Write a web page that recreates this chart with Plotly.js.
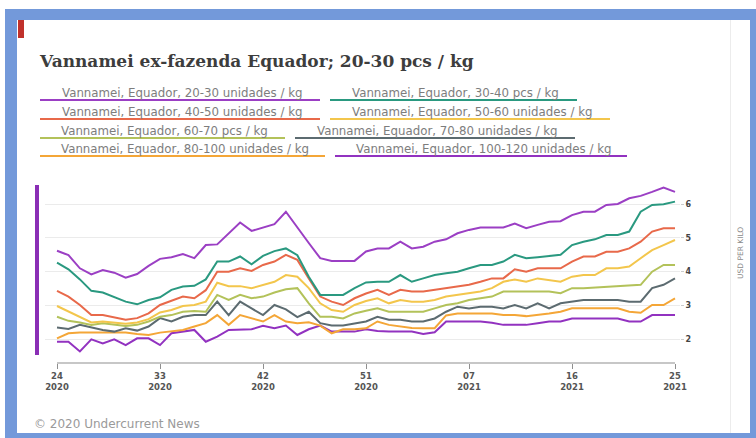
<!DOCTYPE html>
<html>
<head>
<meta charset="utf-8">
<script src="https://cdn.plot.ly/plotly-3.0.1.min.js"></script>
<style>
  html, body { margin:0; padding:0; background:#ffffff; width:756px; height:438px; overflow:hidden; }
  #blue { position:absolute; left:5px; top:9px; width:751px; height:429px; background:#7399da; }
  #white { position:absolute; left:17px; top:20px; width:733px; height:413px; background:#ffffff; }
  #sep { position:absolute; left:730px; top:20px; width:1px; height:413px; background:#ececec; }
  #red { position:absolute; left:18px; top:20px; width:6px; height:18px; background:#c0312b; }
  #chart { position:absolute; left:0; top:0; width:756px; height:438px; }
</style>
</head>
<body>
<div id="blue"></div>
<div id="white"></div>
<div id="sep"></div>
<div id="red"></div>
<div id="chart"></div>
<script>
// ---------- DATA ----------
const weeks = [
  "24/2020","25/2020","26/2020","27/2020","28/2020","29/2020","30/2020","31/2020","32/2020","33/2020",
  "34/2020","35/2020","36/2020","37/2020","38/2020","39/2020","40/2020","41/2020","42/2020","43/2020",
  "44/2020","45/2020","46/2020","47/2020","48/2020","49/2020","50/2020","51/2020","52/2020","53/2020",
  "01/2021","02/2021","03/2021","04/2021","05/2021","06/2021","07/2021","08/2021","09/2021","10/2021",
  "11/2021","12/2021","13/2021","14/2021","15/2021","16/2021","17/2021","18/2021","19/2021","20/2021",
  "21/2021","22/2021","23/2021","24/2021","25/2021"
];
const tickWeeks  = ["24/2020","33/2020","42/2020","51/2020","07/2021","16/2021","25/2021"];
const tickLabels = ["24<br>2020","33<br>2020","42<br>2020","51<br>2020","07<br>2021","16<br>2021","25<br>2021"];

const seriesNames = [
  "Vannamei, Equador, 20-30 unidades / kg",
  "Vannamei, Equador, 30-40 pcs / kg",
  "Vannamei, Equador, 40-50 unidades / kg",
  "Vannamei, Equador, 50-60 unidades / kg",
  "Vannamei, Equador, 60-70 pcs / kg",
  "Vannamei, Equador, 70-80 unidades / kg",
  "Vannamei, Equador, 80-100 unidades / kg",
  "Vannamei, Equador, 100-120 unidades / kg"
];

const s20_30 = [4.62,4.49,4.10,3.92,4.05,3.97,3.82,3.93,4.17,4.38,4.43,4.52,4.40,4.79,4.81,5.14,5.46,5.21,5.31,5.41,
  5.78,5.30,4.85,4.40,4.32,4.32,4.32,4.60,4.69,4.69,4.89,4.69,4.74,4.89,4.96,5.14,5.24,5.31,5.31,5.31,
  5.43,5.29,5.39,5.48,5.50,5.68,5.78,5.78,5.98,6.01,6.18,6.25,6.37,6.50,6.37];
const s30_40 = [4.27,4.07,3.77,3.43,3.38,3.24,3.11,3.03,3.16,3.24,3.46,3.56,3.58,3.77,4.30,4.30,4.45,4.22,4.47,4.61,
  4.69,4.49,3.85,3.31,3.31,3.31,3.51,3.68,3.70,3.70,3.90,3.70,3.80,3.90,3.95,4.00,4.10,4.20,4.20,4.30,
  4.50,4.40,4.43,4.47,4.50,4.79,4.89,4.96,5.09,5.09,5.19,5.78,5.98,6.00,6.08];
const s40_50 = [3.43,3.26,3.01,2.71,2.71,2.65,2.57,2.62,2.76,3.01,3.14,3.26,3.21,3.45,4.00,4.00,4.10,4.02,4.20,4.30,
  4.50,4.35,3.80,3.26,3.11,3.01,3.21,3.35,3.46,3.31,3.46,3.41,3.41,3.46,3.51,3.56,3.61,3.70,3.80,3.80,
  4.07,4.00,4.10,4.10,4.10,4.30,4.45,4.45,4.59,4.59,4.69,4.89,5.19,5.29,5.29];
const s50_60 = [2.98,2.81,2.66,2.49,2.52,2.49,2.45,2.49,2.59,2.79,2.86,2.98,3.01,3.11,3.67,3.57,3.57,3.51,3.60,3.70,
  3.90,3.85,3.51,3.06,2.86,2.81,3.01,3.13,3.21,3.06,3.16,3.11,3.11,3.16,3.26,3.31,3.36,3.41,3.51,3.70,
  3.77,3.70,3.80,3.75,3.70,3.85,3.90,3.90,4.10,4.10,4.15,4.40,4.64,4.79,4.94];
const s60_70 = [2.66,2.54,2.49,2.42,2.47,2.42,2.39,2.42,2.52,2.66,2.71,2.81,2.83,2.81,3.31,3.16,3.31,3.21,3.26,3.38,
  3.48,3.51,3.06,2.66,2.66,2.61,2.76,2.84,2.91,2.81,2.81,2.81,2.81,2.91,3.01,3.06,3.16,3.21,3.26,3.41,
  3.41,3.41,3.41,3.41,3.36,3.51,3.51,3.53,3.56,3.58,3.61,3.61,4.00,4.20,4.20];
const s70_80 = [2.34,2.30,2.42,2.34,2.27,2.22,2.32,2.25,2.37,2.62,2.52,2.66,2.71,2.71,3.11,2.71,3.11,2.91,2.71,3.01,
  2.88,2.65,2.81,2.47,2.40,2.40,2.47,2.52,2.66,2.57,2.57,2.52,2.52,2.61,2.81,2.96,2.91,2.96,2.96,2.91,
  3.01,2.91,3.06,2.91,3.06,3.11,3.16,3.16,3.16,3.16,3.11,3.11,3.51,3.61,3.80];
const s80_100 = [2.02,2.17,2.19,2.19,2.17,2.17,2.19,2.15,2.12,2.19,2.22,2.27,2.37,2.47,2.71,2.42,2.71,2.61,2.52,2.71,
  2.52,2.47,2.50,2.40,2.17,2.29,2.29,2.32,2.52,2.42,2.38,2.33,2.32,2.32,2.70,2.76,2.76,2.76,2.76,2.71,
  2.71,2.68,2.71,2.76,2.81,2.91,2.91,2.91,2.91,2.91,2.81,2.78,3.01,3.01,3.21];
const s100_120 = [1.92,1.92,1.63,1.99,1.87,1.99,1.82,2.02,2.02,1.82,2.17,2.22,2.27,1.92,2.07,2.27,2.29,2.29,2.39,2.32,
  2.40,2.12,2.29,2.40,2.22,2.22,2.22,2.29,2.24,2.22,2.22,2.22,2.15,2.20,2.52,2.52,2.52,2.52,2.48,2.42,
  2.42,2.42,2.47,2.52,2.52,2.61,2.61,2.61,2.61,2.61,2.52,2.52,2.71,2.71,2.71];

const seriesValues = [s20_30, s30_40, s40_50, s50_60, s60_70, s70_80, s80_100, s100_120];

// ---------- STYLE ----------
const colors = ["#9b3fc4","#2a9980","#e8694a","#f3c64c","#b3c25a","#5c6b70","#f4a637","#9232c0"];

// plot area in pixels
const L = 45, R = 680, T = 185, B = 363;
const px = x => (x - L) / (R - L);
const py = y => (B - y) / (B - T);

// legend layout (pixel positions): [underline x0, underline x1, row text y, row underline y]
const legendPos = [
  [40, 320, 93, 100], [330, 577, 93, 100],
  [40, 320, 112, 119], [330, 610, 112, 119],
  [40, 285, 131, 138], [295, 575, 131, 138],
  [40, 325, 149, 156], [335, 627, 149, 156]
];

const traces = seriesValues.map((vals, k) => ({
  type: "scatter", mode: "lines",
  x: weeks, y: vals, name: seriesNames[k],
  line: { color: colors[k], width: 2 },
  showlegend: false, hoverinfo: "skip", cliponaxis: false
})).reverse();

const annotations = [
  { xref:"paper", yref:"paper", x:px(37), y:py(61), xanchor:"left", yanchor:"middle",
    text:"<b>Vannamei ex-fazenda Equador; 20-30 pcs / kg</b>", showarrow:false,
    font:{ family:"DejaVu Serif", size:17, color:"#3d3d3d" } },
  { xref:"paper", yref:"paper", x:px(740), y:py(253), xanchor:"center", yanchor:"middle",
    text:"USD PER KILO", textangle:-90, showarrow:false,
    font:{ family:"DejaVu Sans", size:7.5, color:"#8a8a8a" } },
  { xref:"paper", yref:"paper", x:px(32), y:py(424), xanchor:"left", yanchor:"middle",
    text:"© 2020 Undercurrent News", showarrow:false,
    font:{ family:"DejaVu Sans", size:12, color:"#9a9a9a" } }
];
const shapes = [
  { type:"rect", xref:"paper", yref:"paper", x0:px(35), x1:px(39), y0:py(355), y1:py(185),
    fillcolor:"#8a2eb5", line:{ width:0 } },
  { type:"line", xref:"x", yref:"paper", x0:weeks[0], x1:weeks[weeks.length-1], y0:0, y1:0,
    line:{ color:"#8f8f8f", width:1 } }
];
seriesNames.forEach((nm, k) => {
  const p = legendPos[k];
  annotations.push({ xref:"paper", yref:"paper", x:px((p[0]+p[1])/2 + 2), y:py(p[2]),
    xanchor:"center", yanchor:"middle", text:nm, showarrow:false,
    font:{ family:"DejaVu Sans", size:11.8, color:"#7d7d7d" } });
  shapes.push({ type:"line", xref:"paper", yref:"paper", x0:px(p[0]), x1:px(p[1]), y0:py(p[3]), y1:py(p[3]),
    line:{ color:colors[k], width:2 } });
});

const layout = {
  width: 756, height: 438,
  margin: { l: L, r: 756 - R, t: T, b: 438 - B, pad: 0 },
  paper_bgcolor: "rgba(0,0,0,0)", plot_bgcolor: "rgba(0,0,0,0)",
  showlegend: false,
  xaxis: {
    type: "category", range: [-1.049, 54.437],
    tickmode: "array", tickvals: tickWeeks, ticktext: tickLabels,
    showgrid: false, zeroline: false, showline: false,
    ticks: "outside", ticklen: 5, tickcolor: "#8f8f8f", tickwidth: 1,
    tickfont: { family: "DejaVu Sans", size: 8.5, color: "#555555", weight: "bold" },
    fixedrange: true
  },
  yaxis: {
    side: "right", range: [1.288, 6.573],
    tickmode: "array", tickvals: [2,3,4,5,6], ticktext: ["2","3","4","5","6"],
    showgrid: true, gridcolor: "#ebebeb", gridwidth: 1,
    zeroline: false, showline: false,
    ticks: "outside", ticklen: 3, tickcolor: "#cccccc",
    tickfont: { family: "DejaVu Sans", size: 8, color: "#444444", weight: "bold" },
    fixedrange: true
  },
  annotations: annotations,
  shapes: shapes
};

Plotly.newPlot("chart", traces, layout, { staticPlot: true, displayModeBar: false });
</script>
</body>
</html>
